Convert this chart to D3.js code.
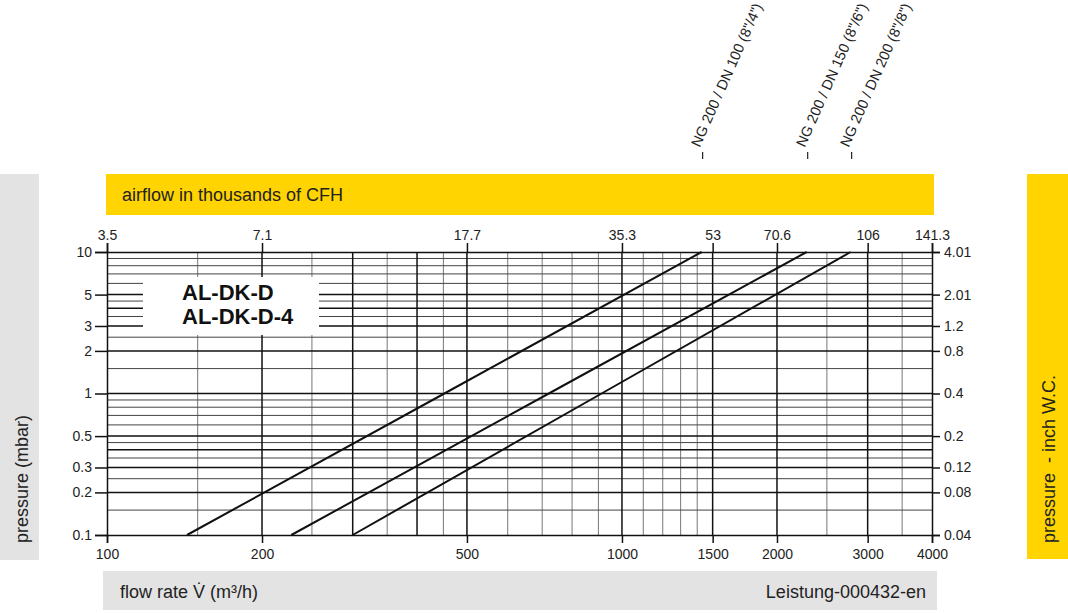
<!DOCTYPE html>
<html>
<head>
<meta charset="utf-8">
<script src="https://cdn.jsdelivr.net/npm/d3@7"></script>
<style>
  body { margin: 0; background: #fff; }
  svg { display: block; font-family: "Liberation Sans", Arial, sans-serif; }
  .tick-label { font-size: 14px; fill: #222; }
  .band-label { font-size: 18px; fill: #222; white-space: pre; }
  .end-label { font-size: 14.5px; fill: #222; }
</style>
</head>
<body>
<svg width="1068" height="613"></svg>
<script>
// flow rate ticks (m3/h) and the matching CFH labels on top
const flowTicks = [100, 200, 500, 1000, 1500, 2000, 3000, 4000];
const cfhLabels = ["3.5", "7.1", "17.7", "35.3", "53", "70.6", "106", "141.3"];

// pressure ticks (mbar) and the matching inch W.C. labels on the right
const pressureTicks = [10, 5, 3, 2, 1, 0.5, 0.3, 0.2, 0.1];
const inchLabels = ["4.01", "2.01", "1.2", "0.8", "0.4", "0.2", "0.12", "0.08", "0.04"];

// grid lines
const vMajor = [200, 300, 400, 500, 1000, 1500, 2000, 3000];
const vMinor = [150, 250, 350, 450, 600, 700, 800, 900, 1100, 1200, 1300, 1400, 2500, 3500];
const hMajor = [0.2, 0.3, 0.4, 0.5, 1, 2, 3, 4, 5];
const hMinor = [0.15, 0.25, 0.35, 0.45, 0.6, 0.7, 0.8, 0.9, 1.5, 2.5, 3.5, 4.5, 6, 7, 8, 9];

// characteristic lines: flow rate at given pressure drop
const pressurePts = [0.1, 1, 10];
const flowDN100 = [143, 452, 1428];
const flowDN150 = [228, 721, 2284];
const flowDN200 = [300, 913, 2780];
const seriesNames = ['NG 200 / DN 100 (8"/4")', 'NG 200 / DN 150 (8"/6")', 'NG 200 / DN 200 (8"/8")'];
const series = [flowDN100, flowDN150, flowDN200];

const svg = d3.select("svg");

const x = d3.scaleLog().domain([100, 4000]).range([107, 932]);
const y = d3.scaleLog().domain([0.1, 10]).range([535, 252]);

const yellow = "#ffd400", grey = "#e3e3e3";

// bands
svg.append("rect").attr("x", 106).attr("y", 174).attr("width", 828).attr("height", 41).attr("fill", yellow);
svg.append("text").attr("class", "band-label").attr("x", 122).attr("y", 201).text("airflow in thousands of CFH");

svg.append("rect").attr("x", 0).attr("y", 174).attr("width", 39).attr("height", 386).attr("fill", grey);
svg.append("text").attr("class", "band-label")
    .attr("transform", "translate(28,543) rotate(-90)")
    .text("pressure (mbar)");

svg.append("rect").attr("x", 1027).attr("y", 174).attr("width", 41).attr("height", 385).attr("fill", yellow);
svg.append("text").attr("class", "band-label")
    .attr("transform", "translate(1055,543) rotate(-90)")
    .text("pressure  - inch W.C.");

svg.append("rect").attr("x", 103).attr("y", 571).attr("width", 834).attr("height", 39).attr("fill", grey);
svg.append("text").attr("class", "band-label").attr("x", 120).attr("y", 598).text("flow rate V\u0307 (m³/h)");
svg.append("text").attr("class", "band-label").attr("x", 926).attr("y", 598)
    .attr("text-anchor", "end").text("Leistung-000432-en");

// grid
const grid = svg.append("g");
grid.selectAll(".vmin").data(vMinor).enter().append("line")
    .attr("x1", d => x(d)).attr("x2", d => x(d)).attr("y1", y(0.1)).attr("y2", y(10))
    .attr("stroke", "#777").attr("stroke-width", 1);
grid.selectAll(".hmin").data(hMinor).enter().append("line")
    .attr("x1", x(100)).attr("x2", x(4000)).attr("y1", d => y(d)).attr("y2", d => y(d))
    .attr("stroke", "#444").attr("stroke-width", 1);
grid.selectAll(".vmaj").data(vMajor).enter().append("line")
    .attr("x1", d => x(d)).attr("x2", d => x(d)).attr("y1", y(0.1)).attr("y2", y(10))
    .attr("stroke", "#111").attr("stroke-width", 1.5);
grid.selectAll(".hmaj").data(hMajor).enter().append("line")
    .attr("x1", x(100)).attr("x2", x(4000)).attr("y1", d => y(d)).attr("y2", d => y(d))
    .attr("stroke", "#111").attr("stroke-width", 1.5);

// white label box
svg.append("rect").attr("x", 143).attr("y", 277).attr("width", 176).attr("height", 58).attr("fill", "#fff");
svg.append("text").attr("x", 182).attr("y", 300).attr("font-size", 22).attr("font-weight", "bold")
    .attr("fill", "#111").text("AL-DK-D");
svg.append("text").attr("x", 182).attr("y", 324).attr("font-size", 22).attr("font-weight", "bold")
    .attr("fill", "#111").text("AL-DK-D-4");

// axes
const axisStyle = g => {
    g.select(".domain").attr("stroke", "#111").attr("stroke-width", 1.5);
    g.selectAll(".tick line").attr("stroke", "#111").attr("stroke-width", 1.5);
    g.selectAll(".tick text").attr("class", "tick-label").attr("fill", "#222").attr("font-family", null).attr("font-size", null);
};

svg.append("g").attr("transform", `translate(0,${y(0.1)})`)
    .call(d3.axisBottom(x).tickValues(flowTicks).tickFormat(d3.format("d")).tickSizeOuter(0).tickSize(8).tickPadding(6))
    .call(axisStyle);

svg.append("g").attr("transform", `translate(0,${y(10)})`)
    .call(d3.axisTop(x).tickValues(flowTicks).tickFormat((d, i) => cfhLabels[i]).tickSizeOuter(0).tickSize(9).tickPadding(3))
    .call(axisStyle);

svg.append("g").attr("transform", `translate(${x(100)},0)`)
    .call(d3.axisLeft(y).tickValues(pressureTicks).tickFormat(d3.format("")).tickSizeOuter(0).tickSize(12).tickPadding(3))
    .call(axisStyle);

svg.append("g").attr("transform", `translate(${x(4000)},0)`)
    .call(d3.axisRight(y).tickValues(pressureTicks).tickFormat((d, i) => inchLabels[i]).tickSizeOuter(0).tickSize(8).tickPadding(4))
    .call(axisStyle);

// characteristic lines
const line = d3.line().x(d => x(d[0])).y(d => y(d[1]));
svg.selectAll(".curve").data(series).enter().append("path")
    .attr("class", "curve")
    .attr("d", d => line(d.map((f, i) => [f, pressurePts[i]])))
    .attr("fill", "none").attr("stroke", "#111").attr("stroke-width", 2);

// labels above the plot at the end of each line
const ends = series.map((d, i) => ({ name: seriesNames[i], flow: d[d.length - 1] }));
const lab = svg.selectAll(".endlab").data(ends).enter().append("g").attr("class", "endlab");
lab.append("line")
    .attr("x1", d => x(d.flow) + 1).attr("x2", d => x(d.flow) + 1)
    .attr("y1", 152).attr("y2", 159)
    .attr("stroke", "#222").attr("stroke-width", 1.2);
lab.append("text")
    .attr("class", "end-label")
    .attr("transform", d => `translate(${x(d.flow) - 2},148) rotate(-66)`)
    .text(d => d.name);
</script>
</body>
</html>
